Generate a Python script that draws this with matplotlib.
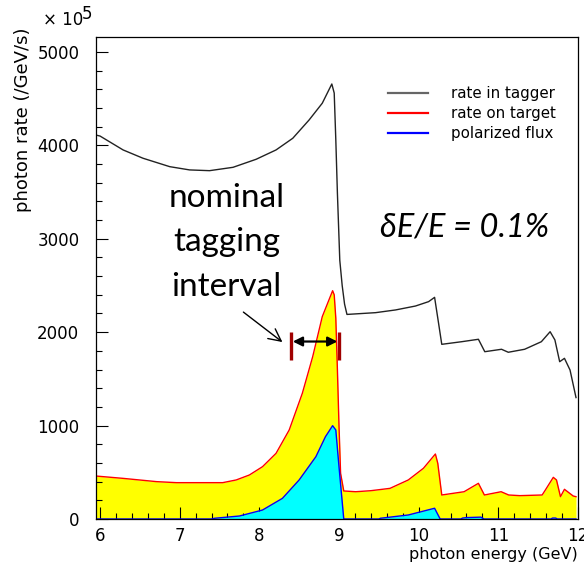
import matplotlib
matplotlib.use("Agg")
import matplotlib.pyplot as plt

# ---------------- data ----------------
tagger_x = [5.95, 6.00, 6.29, 6.54, 6.875, 7.125, 7.375, 7.67, 7.96, 8.21, 8.42, 8.625,
            8.79, 8.91, 8.94, 8.96, 8.98, 9.01, 9.04, 9.07, 9.10, 9.46, 9.71, 9.96,
            10.125, 10.20, 10.25, 10.29, 10.54, 10.75, 10.83, 11.04, 11.125, 11.33,
            11.54, 11.65, 11.71, 11.77, 11.83, 11.90, 11.975]
tagger_y = [4110, 4100, 3951, 3862, 3772, 3737, 3729, 3765, 3851, 3951, 4076, 4272,
            4451, 4657, 4560, 4060, 3490, 2770, 2500, 2300, 2190, 2209, 2238, 2280,
            2327, 2373, 2095, 1870, 1898, 1924, 1791, 1817, 1785, 1817,
            1898, 2005, 1917, 1684, 1720, 1595, 1300]

target_x = [5.95, 6.29, 6.71, 6.96, 7.54, 7.71, 7.875, 8.04, 8.21, 8.375, 8.54, 8.67,
            8.79, 8.92, 8.94, 8.96, 8.98, 9.00, 9.02, 9.06, 9.21, 9.40, 9.64, 9.87,
            10.06, 10.21, 10.24, 10.29, 10.57, 10.75, 10.825, 11.035, 11.13, 11.27,
            11.55, 11.59, 11.69, 11.73, 11.78, 11.83, 11.94, 11.975]
target_y = [460, 435, 400, 389, 389, 418, 471, 560, 703, 953, 1346, 1738,
            2166, 2444, 2400, 2150, 1600, 1000, 489, 300, 292, 303, 328, 418,
            543, 696, 596, 257, 292, 382, 257, 292, 257, 250,
            257, 310, 446, 418, 239, 318, 246, 239]

pol_x = [5.95, 7.40, 7.44, 7.75, 8.04, 8.29, 8.50, 8.71, 8.83, 8.92, 8.96, 9.00, 9.06,
         9.50, 9.52, 9.87, 10.20, 10.27, 10.53, 10.55, 10.60, 10.78, 10.82,
         11.66, 11.68, 11.72, 11.74, 11.975]
pol_y = [0, 0, 8, 32, 96, 221, 418, 667, 881, 999, 953, 560, 0,
         0, 8, 43, 115, 0, 0, 10, 15, 20, 0,
         0, 10, 10, 0, 0]

series_labels = ["rate in tagger", "rate on target", "polarized flux"]
x_ticks = [6, 7, 8, 9, 10, 11, 12]
y_ticks = [0, 1000, 2000, 3000, 4000, 5000]

interval_lo, interval_hi = 8.40, 9.00
interval_y = 1900
interval_bar = (1700, 2005)

# ---------------- figure ----------------
W, H = 584, 568
fig = plt.figure(figsize=(W / 100, H / 100), dpi=100)


def fx(px):
    return px / W


def fy(py):
    return 1 - py / H


ax = fig.add_axes([fx(96), fy(519), (578 - 96) / W, (519 - 37) / H])

ax.fill_between(target_x, 0, target_y, color="#ffff00", lw=0, zorder=1)
ax.fill_between(pol_x, 0, pol_y, color="#00ffff", lw=0, zorder=2)
l_target, = ax.plot(target_x, target_y, color="#ff0000", lw=1.0, zorder=3,
                    label=series_labels[1])
l_pol, = ax.plot(pol_x, pol_y, color="#0000ff", lw=1.0, zorder=4,
                 label=series_labels[2])
l_tag, = ax.plot(tagger_x, tagger_y, color="#222222", lw=1.0, zorder=5,
                 label=series_labels[0])

ax.set_xlim(5.95, 11.975)
ax.set_ylim(0, 5160)

ax.set_xticks(x_ticks)
ax.set_xticklabels([str(t) for t in x_ticks])
ax.set_yticks(y_ticks)
ax.set_yticklabels([str(t) for t in y_ticks])
ax.set_xticks([6 + 0.2 * i for i in range(31) if i % 5 != 0], minor=True)
ax.set_yticks([200 * i for i in range(26) if i % 5 != 0], minor=True)

ax.tick_params(axis="both", which="both", direction="in", top=False, right=False,
               width=0.8, colors="black")
ax.tick_params(axis="both", which="major", length=8.6, labelsize=12)
ax.tick_params(axis="both", which="minor", length=4.6)
ax.tick_params(axis="x", which="major", pad=5.5)
ax.tick_params(axis="y", which="major", pad=12)

for sp in ax.spines.values():
    sp.set_linewidth(0.9)
    sp.set_color("black")
    sp.set_zorder(10)

# legend
leg = ax.legend(handles=[l_tag, l_target, l_pol], labels=series_labels,
                loc="upper left", bbox_to_anchor=(fx(388), fy(86)),
                bbox_transform=fig.transFigure, frameon=False, fontsize=10.8,
                handlelength=2.65, handletextpad=1.55, labelspacing=0.33,
                borderpad=0, borderaxespad=0)
for h in leg.legend_handles:
    h.set_linewidth(1.6)
leg.legend_handles[0].set_color("#666666")

# axis labels
fig.text(fx(578), fy(555), "photon energy (GeV)", ha="right", va="center",
         fontsize=11.5)
fig.text(fx(23), fy(120), "photon rate (/GeV/s)", ha="center", va="center",
         rotation=90, fontsize=13)
fig.text(fx(43), fy(20), "\u00d7 10", ha="left", va="center", fontsize=12)
fig.text(fx(82), fy(14), "5", ha="left", va="center", fontsize=12)

# annotations
for txt, base in zip(["nominal", "tagging", "interval"], [207, 251, 296]):
    fig.text(fx(226.5), fy(base), txt, ha="center", va="baseline",
             fontsize=24, family="Lato")

fig.text(fx(380), fy(237), "\u03b4E/E = 0.1%", ha="left", va="baseline",
         fontsize=23.5, family="Lato", style="italic")

ax.annotate("", xy=(8.29, 1894), xytext=(7.80, 2215),
            arrowprops=dict(arrowstyle="->", color="black", lw=1.0,
                            mutation_scale=22, shrinkA=0, shrinkB=0),
            zorder=8)
ax.annotate("", xy=(interval_hi - 0.02, interval_y),
            xytext=(interval_lo + 0.02, interval_y),
            arrowprops=dict(arrowstyle="<|-|>", color="black", lw=1.6,
                            mutation_scale=14, shrinkA=0, shrinkB=0),
            zorder=8)
ax.vlines([interval_lo, interval_hi], interval_bar[0], interval_bar[1],
          color="#a00000", lw=2.4, zorder=9)

fig.savefig("out.png", dpi=100)
